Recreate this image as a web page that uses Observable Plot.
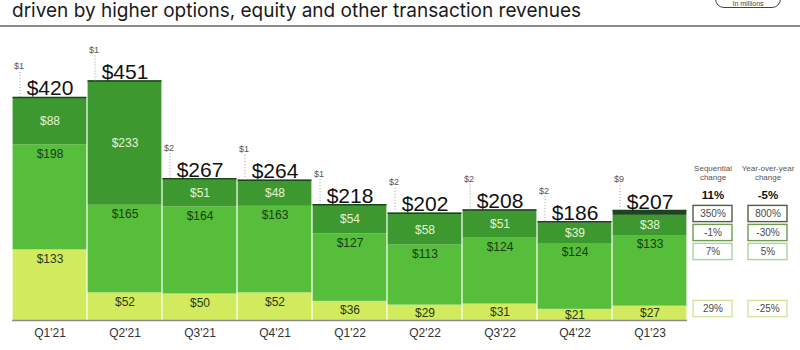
<!DOCTYPE html>
<html>
<head>
<meta charset="utf-8">
<script src="https://cdn.jsdelivr.net/npm/d3@7"></script>
<script src="https://cdn.jsdelivr.net/npm/@observablehq/plot@0.6"></script>
<style>
  html, body { margin: 0; padding: 0; background: #fff; }
  #wrap { position: relative; width: 800px; height: 350px; overflow: hidden; font-family: "Liberation Sans", Arial, sans-serif; }
  #title { position: relative; height: 25px; border-bottom: 2px solid #8c8c8c; }
  #title span { position: absolute; left: 12px; top: 0px; font-family: Inter, "Noto Sans", sans-serif; font-size: 19px; line-height: 21px; color: #1a1a1a; white-space: nowrap; }
  #unit { position: absolute; left: 715px; top: -12px; width: 66px; height: 20px; border: 1.2px solid #444; border-radius: 9px; font-size: 7px; color: #444; text-align: center; line-height: 30px; box-sizing: border-box; }
  #table { position: absolute; left: 680px; top: 150px; }
  svg { display: block; }
</style>
</head>
<body>
<div id="wrap">
  <div id="title"><span>driven by higher options, equity and other transaction revenues</span><div id="unit">In millions</div></div>
  <div id="chart"></div>
  <div id="table"></div>
</div>
<script>
// ---- data (USD millions) ----
const quarters = ["Q1'21","Q2'21","Q3'21","Q4'21","Q1'22","Q2'22","Q3'22","Q4'22","Q1'23"];
const equities = [133, 52, 50, 52, 36, 29, 31, 21, 27];
const options  = [198, 165, 164, 163, 127, 113, 124, 124, 133];
const crypto   = [88, 233, 51, 48, 54, 58, 51, 39, 38];
const other    = [1, 1, 2, 1, 1, 2, 2, 2, 9];
const seriesNames = ["Equities", "Options", "Crypto", "Other"];
const seriesColors = ["#d2ea5e", "#57be3c", "#3e9830", "#1b461d"];

// change table
const tableRows = ["header", "Total", "Other", "Crypto", "Options", "_gap1", "_gap2", "Equities"];
const boxRows = ["Other", "Crypto", "Options", "Equities"];
const boxStrokes = ["#4d5f47", "#6f9a4f", "#a9d59b", "#d3e59c"];
const sequentialChange = ["11%", "350%", "-1%", "7%", "29%"];
const yoyChange = ["-5%", "800%", "-30%", "5%", "-25%"];
const changeRowNames = ["Total", "Other", "Crypto", "Options", "Equities"];
const columnHeaders = ["Sequential\nchange", "Year-over-year\nchange"];

// ---- build tables ----
const seriesValues = [equities, options, crypto, other];
const segs = [];
quarters.forEach((q, i) => {
  let base = 0;
  seriesNames.forEach((s, j) => {
    const v = seriesValues[j][i];
    segs.push({q, series: s, value: v, y1: base, y2: base + v});
    base += v;
  });
});
const totals = quarters.map((q, i) => ({q, total: equities[i] + options[i] + crypto[i] + other[i], other: other[i]}));

const font = "'Liberation Sans', Arial, sans-serif";

const chart = Plot.plot({
  width: 800,
  height: 323,
  marginLeft: 12,
  marginRight: 113,
  marginTop: 53.5,
  marginBottom: 30,
  style: {fontFamily: font, background: "transparent"},
  x: {type: "band", domain: quarters, padding: 0, label: null},
  y: {domain: [0, 451], axis: null},
  color: {domain: seriesNames, range: seriesColors},
  marks: [
    Plot.rectY(segs, {x: "q", y1: "y1", y2: "y2", fill: "series", insetLeft: 0.6, insetRight: 0.6}),
    Plot.tickY(totals, {x: "q", y: "total", stroke: "#1b461d", strokeWidth: 1.5, insetLeft: 0.6, insetRight: 0.6}),
    Plot.ruleY([0], {stroke: "#8c8c8c", strokeWidth: 1.5}),
    Plot.axisX({tickSize: 0, tickPadding: 8, fontSize: 12, fill: "#333", label: null}),
    // segment labels
    Plot.text(segs.filter(d => d.series === "Equities"), {x: "q", y: d => Math.max(d.y2 - 17, (d.y1 + d.y2) / 2), text: d => "$" + d.value, fontSize: 12, fill: "#2c3b14"}),
    Plot.text(segs.filter(d => d.series === "Options"), {x: "q", y: d => Math.max(d.y2 - 17, (d.y1 + d.y2) / 2), text: d => "$" + d.value, fontSize: 12, fill: "#173d10"}),
    Plot.text(segs.filter(d => d.series === "Crypto"), {x: "q", y: d => (d.y1 + d.y2) / 2, text: d => "$" + d.value, fontSize: 12, fill: "#e2f6d3"}),
    // totals
    Plot.text(totals, {x: "q", y: "total", text: d => "$" + d.total, fontSize: 21, fill: "#111", lineAnchor: "bottom", dy: -2}),
    // "other" small labels with dotted leader
    Plot.ruleX(totals, {x: "q", y1: "total", y2: "total", insetTop: -25, dx: -30, stroke: "#9a9a9a", strokeDasharray: "1,2", strokeWidth: 1}),
    Plot.text(totals, {x: "q", y: "total", text: d => "$" + d.other, fontSize: 9, fill: "#555", textAnchor: "start", dx: -36, dy: -31})
  ]
});
document.getElementById("chart").append(chart);

// ---- change table ----
const cols = ["seq", "yoy"];
const tableData = [];
changeRowNames.forEach((r, i) => {
  tableData.push({col: "seq", row: r, text: sequentialChange[i]});
  tableData.push({col: "yoy", row: r, text: yoyChange[i]});
});
const headerData = cols.map((c, i) => ({col: c, row: "header", text: columnHeaders[i]}));

const table = Plot.plot({
  width: 120,
  height: 175,
  marginLeft: 5,
  marginRight: 5,
  marginTop: 13.65,
  marginBottom: 3.75,
  style: {fontFamily: font, background: "transparent"},
  x: {type: "band", domain: cols, padding: 0, axis: null},
  y: {type: "band", domain: tableRows, padding: 0, axis: null},
  color: {domain: boxRows, range: boxStrokes},
  marks: [
    Plot.cell(tableData.filter(d => boxRows.includes(d.row)), {x: "col", y: "row", fill: "white", stroke: "row", strokeWidth: 1.4, insetLeft: 8, insetRight: 8, insetTop: 1.4, insetBottom: 1.4}),
    Plot.text(tableData.filter(d => d.row !== "Total"), {x: "col", y: "row", text: "text", fontSize: 10, fill: "#4a4a4a"}),
    Plot.text(tableData.filter(d => d.row === "Total"), {x: "col", y: "row", text: "text", fontSize: 11.5, fontWeight: "bold", fill: "#111"}),
    Plot.text(headerData, {x: "col", y: "row", text: "text", fontSize: 8, fill: "#555", lineHeight: 1.1, dy: -3})
  ]
});
document.getElementById("table").append(table);
</script>
</body>
</html>
